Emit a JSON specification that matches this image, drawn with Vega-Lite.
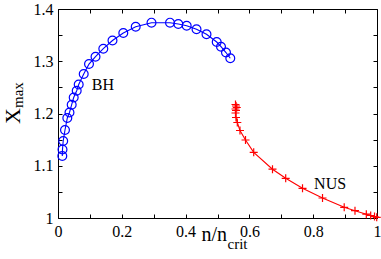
{
  "$schema": "https://vega.github.io/schema/vega-lite/v6.json",
  "width": 319,
  "height": 209,
  "autosize": {"type": "none"},
  "padding": {"left": 58, "top": 9, "right": 4, "bottom": 41},
  "background": "white",
  "config": {
    "view": {"stroke": null},
    "axis": {
      "domainColor": "black", "tickColor": "black", "tickSize": -4, "tickWidth": 1,
      "labelFont": "Liberation Serif, Times New Roman, serif", "labelFontSize": 16, "labelColor": "black",
      "grid": false, "title": null
    },
    "text": {"font": "Liberation Serif, Times New Roman, serif", "color": "black"}
  },
  "datasets": {
    "pts": [
      {"s": "BH", "i": 1, "x": 0.0135, "y": 1.1187},
      {"s": "BH", "i": 2, "x": 0.0141, "y": 1.1311},
      {"s": "BH", "i": 3, "x": 0.0163, "y": 1.1474},
      {"s": "BH", "i": 4, "x": 0.0219, "y": 1.1684},
      {"s": "BH", "i": 5, "x": 0.0292, "y": 1.1914},
      {"s": "BH", "i": 6, "x": 0.036, "y": 1.2019},
      {"s": "BH", "i": 7, "x": 0.0429, "y": 1.2168},
      {"s": "BH", "i": 8, "x": 0.0492, "y": 1.2306},
      {"s": "BH", "i": 9, "x": 0.0586, "y": 1.2436},
      {"s": "BH", "i": 10, "x": 0.0649, "y": 1.2555},
      {"s": "BH", "i": 11, "x": 0.0806, "y": 1.2756},
      {"s": "BH", "i": 12, "x": 0.0972, "y": 1.2947},
      {"s": "BH", "i": 13, "x": 0.1176, "y": 1.3087},
      {"s": "BH", "i": 14, "x": 0.142, "y": 1.324},
      {"s": "BH", "i": 15, "x": 0.1708, "y": 1.3397},
      {"s": "BH", "i": 16, "x": 0.2047, "y": 1.3541},
      {"s": "BH", "i": 17, "x": 0.2436, "y": 1.3661},
      {"s": "BH", "i": 18, "x": 0.2931, "y": 1.3738},
      {"s": "BH", "i": 19, "x": 0.3511, "y": 1.3738},
      {"s": "BH", "i": 20, "x": 0.3771, "y": 1.3713},
      {"s": "BH", "i": 21, "x": 0.4034, "y": 1.368},
      {"s": "BH", "i": 22, "x": 0.4342, "y": 1.3613},
      {"s": "BH", "i": 23, "x": 0.4655, "y": 1.3516},
      {"s": "BH", "i": 24, "x": 0.4975, "y": 1.3368},
      {"s": "BH", "i": 25, "x": 0.511, "y": 1.3278},
      {"s": "BH", "i": 26, "x": 0.5266, "y": 1.3167},
      {"s": "BH", "i": 27, "x": 0.5401, "y": 1.3057},
      {"s": "NUS", "i": 1, "x": 0.5564, "y": 1.2172},
      {"s": "NUS", "i": 2, "x": 0.558, "y": 1.2144},
      {"s": "NUS", "i": 3, "x": 0.5605, "y": 1.2115},
      {"s": "NUS", "i": 4, "x": 0.5564, "y": 1.2086},
      {"s": "NUS", "i": 5, "x": 0.558, "y": 1.2057},
      {"s": "NUS", "i": 6, "x": 0.5564, "y": 1.201},
      {"s": "NUS", "i": 7, "x": 0.558, "y": 1.1923},
      {"s": "NUS", "i": 8, "x": 0.5621, "y": 1.1828},
      {"s": "NUS", "i": 9, "x": 0.5705, "y": 1.1675},
      {"s": "NUS", "i": 10, "x": 0.5878, "y": 1.1493},
      {"s": "NUS", "i": 11, "x": 0.6135, "y": 1.1257},
      {"s": "NUS", "i": 12, "x": 0.6724, "y": 1.0934},
      {"s": "NUS", "i": 13, "x": 0.7138, "y": 1.076},
      {"s": "NUS", "i": 14, "x": 0.7665, "y": 1.0568},
      {"s": "NUS", "i": 15, "x": 0.8292, "y": 1.0383},
      {"s": "NUS", "i": 16, "x": 0.8972, "y": 1.0205},
      {"s": "NUS", "i": 17, "x": 0.931, "y": 1.014},
      {"s": "NUS", "i": 18, "x": 0.9665, "y": 1.0073},
      {"s": "NUS", "i": 19, "x": 0.9802, "y": 1.0048},
      {"s": "NUS", "i": 20, "x": 0.9922, "y": 1.0029},
      {"s": "NUS", "i": 21, "x": 0.9991, "y": 1.0013}
    ],
    "labels": [
      {"t": "BH", "x": 0.141, "y": 1.2545},
      {"t": "NUS", "x": 0.853, "y": 1.065}
    ],
    "titles": [
      {"t": "n/n", "x": 0.4498, "y": 0.9561},
      {"t": "crit", "x": 0.5313, "y": 0.9407},
      {"t": "X", "x": -0.1191, "y": 1.2105},
      {"t": "max", "x": -0.1097, "y": 1.2105}
    ]
  },
  "resolve": {"axis": {"x": "independent", "y": "independent"}},
  "layer": [
    {
      "data": {"name": "pts"},
      "mark": {"type": "line", "strokeWidth": 1.1},
      "encoding": {
        "x": {"field": "x", "type": "quantitative", "scale": {"domain": [0, 1], "nice": false, "zero": false},
          "axis": {"orient": "bottom", "values": [0, 0.1, 0.2, 0.3, 0.4, 0.5, 0.6, 0.7, 0.8, 0.9, 1], "format": "~g",
            "labelExpr": "round(datum.value*10) % 2 == 0 ? datum.label : ''", "labelPadding": 9, "labelFlush": false}},
        "y": {"field": "y", "type": "quantitative", "scale": {"domain": [1, 1.4], "nice": false, "zero": false},
          "axis": {"orient": "left", "values": [1, 1.05, 1.1, 1.15, 1.2, 1.25, 1.3, 1.35, 1.4], "format": "~g",
            "labelExpr": "round(datum.value*100) % 10 == 0 ? datum.label : ''", "labelPadding": 9, "labelFlush": false}},
        "color": {"field": "s", "type": "nominal", "scale": {"domain": ["BH", "NUS"], "range": ["#0000ff", "#ff0000"]}, "legend": null},
        "detail": {"field": "s"},
        "order": {"field": "i", "type": "quantitative"}
      }
    },
    {
      "data": {"name": "pts"},
      "transform": [{"filter": "datum.s == 'BH'"}],
      "mark": {"type": "point", "shape": "circle", "filled": false, "size": 78, "strokeWidth": 1.2, "color": "#0000ff", "opacity": 1},
      "encoding": {
        "x": {"field": "x", "type": "quantitative", "axis": {"orient": "top", "values": [0, 0.1, 0.2, 0.3, 0.4, 0.5, 0.6, 0.7, 0.8, 0.9, 1], "labels": false}},
        "y": {"field": "y", "type": "quantitative", "axis": {"orient": "right", "values": [1, 1.05, 1.1, 1.15, 1.2, 1.25, 1.3, 1.35, 1.4], "labels": false}}
      }
    },
    {
      "data": {"name": "pts"},
      "transform": [{"filter": "datum.s == 'NUS'"}],
      "mark": {"type": "point", "shape": "M-1,0L1,0M0,-1L0,1", "filled": false, "size": 64, "strokeWidth": 1.2, "color": "#ff0000", "opacity": 1},
      "encoding": {
        "x": {"field": "x", "type": "quantitative", "axis": null},
        "y": {"field": "y", "type": "quantitative", "axis": null}
      }
    },
    {
      "data": {"name": "labels"},
      "mark": {"type": "text", "fontSize": 16, "align": "center", "baseline": "middle"},
      "encoding": {
        "x": {"field": "x", "type": "quantitative", "axis": null},
        "y": {"field": "y", "type": "quantitative", "axis": null},
        "text": {"field": "t"}
      }
    },
    {
      "data": {"name": "titles"},
      "transform": [{"filter": "datum.t == 'n/n'"}],
      "mark": {"type": "text", "fontSize": 20, "align": "left", "baseline": "alphabetic"},
      "encoding": {
        "x": {"field": "x", "type": "quantitative", "axis": null},
        "y": {"field": "y", "type": "quantitative", "axis": null},
        "text": {"field": "t"}
      }
    },
    {
      "data": {"name": "titles"},
      "transform": [{"filter": "datum.t == 'crit'"}],
      "mark": {"type": "text", "fontSize": 15, "align": "left", "baseline": "alphabetic"},
      "encoding": {
        "x": {"field": "x", "type": "quantitative", "axis": null},
        "y": {"field": "y", "type": "quantitative", "axis": null},
        "text": {"field": "t"}
      }
    },
    {
      "data": {"name": "titles"},
      "transform": [{"filter": "datum.t == 'X'"}],
      "mark": {"type": "text", "fontSize": 22, "align": "right", "baseline": "alphabetic", "angle": 270},
      "encoding": {
        "x": {"field": "x", "type": "quantitative", "axis": null},
        "y": {"field": "y", "type": "quantitative", "axis": null},
        "text": {"field": "t"}
      }
    },
    {
      "data": {"name": "titles"},
      "transform": [{"filter": "datum.t == 'max'"}],
      "mark": {"type": "text", "fontSize": 15, "align": "left", "baseline": "alphabetic", "angle": 270},
      "encoding": {
        "x": {"field": "x", "type": "quantitative", "axis": null},
        "y": {"field": "y", "type": "quantitative", "axis": null},
        "text": {"field": "t"}
      }
    }
  ]
}
